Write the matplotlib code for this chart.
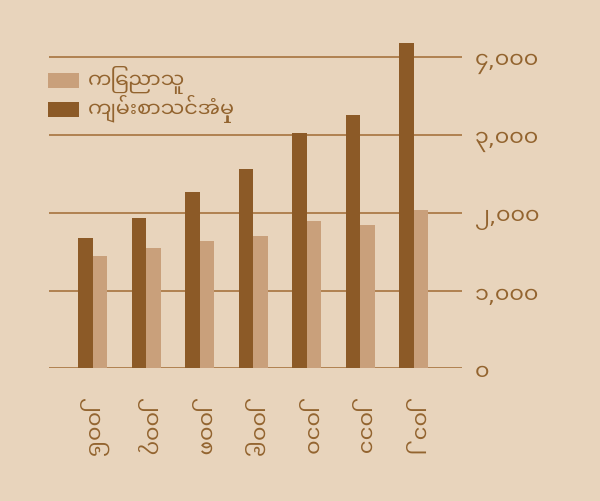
import numpy as np
import matplotlib
matplotlib.use("Agg")
import matplotlib.pyplot as plt
import matplotlib.transforms as mtransforms
from matplotlib.patches import Patch

## Data
Years = ["၂၀၀၆", "၂၀၀၇", "၂၀၀၈", "၂၀၀၉", "၂၀၁၀", "၂၀၁၁", "၂၀၁၂"]
Bible_Studies = [1680, 1937, 2264, 2563, 3030, 3254, 4188]
Publishers = [1444, 1543, 1641, 1702, 1895, 1839, 2036]
Y_Ticks = [0, 1000, 2000, 3000, 4000]
Y_Tick_Labels = ["၀", "၁,၀၀၀", "၂,၀၀၀", "၃,၀၀၀", "၄,၀၀၀"]
Legend_Labels = ["ကြေညာသူ", "ကျမ်းစာသင်အံမှု"]

## Myanmar font first, DejaVu for anything it lacks
plt.rcParams['font.family'] = ['Noto Sans Myanmar UI', 'DejaVu Sans']

Background = "#E8D4BC"
Dark = "#8C5A27"
Light = "#C9A07B"
Line_Colour = "#A7733F"
Text_Colour = "#93642F"

fig = plt.figure(figsize=(6, 5.01), dpi=100, facecolor=Background)
ax = fig.add_axes([0.0817, 0.2649, 0.6883, 0.652])
ax.set_facecolor(Background)

x = np.arange(len(Years))
Width = 0.27
ax.bar(x - Width / 2, Bible_Studies, Width, color=Dark, zorder=3)
ax.bar(x + Width / 2, Publishers, Width, color=Light, zorder=3)

ax.set_xlim(-0.817, 6.9)
ax.set_ylim(0, 4200)

## Y labels on the right, nudged down a little like the reference
ax.yaxis.tick_right()
ax.set_yticks(Y_Ticks)
ax.set_yticklabels(Y_Tick_Labels, fontsize=16, color=Text_Colour)
ax.tick_params(axis='y', length=0, pad=9)
Nudge = mtransforms.ScaledTranslation(0, -4 / 100, fig.dpi_scale_trans)
for label in ax.get_yticklabels():
    label.set_transform(label.get_transform() + Nudge)

ax.set_xticks(x)
ax.set_xticklabels(Years, rotation=-90, fontsize=16, color=Text_Colour)
ax.tick_params(axis='x', length=0, pad=21)

for spine in ax.spines.values():
    spine.set_visible(False)
ax.grid(axis='y', color=Line_Colour, linewidth=1.2, zorder=1)

Handles = [Patch(facecolor=Light), Patch(facecolor=Dark)]
legend = fig.legend(Handles, Legend_Labels, loc='upper left', bbox_to_anchor=(0.08, 0.868),
                    frameon=False, fontsize=15, handlelength=1.5, handleheight=0.72,
                    labelspacing=0.05, handletextpad=0.4, borderpad=0, borderaxespad=0)
plt.setp(legend.get_texts(), color=Text_Colour)

fig.savefig("out.png", dpi=100, facecolor=Background)
